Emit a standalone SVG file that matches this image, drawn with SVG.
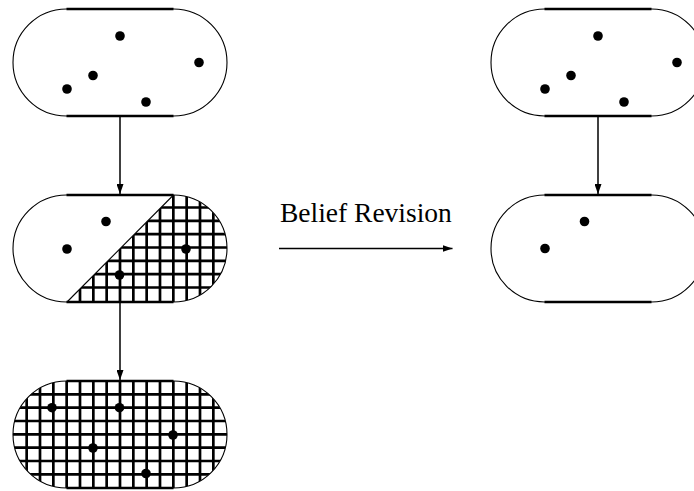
<svg xmlns="http://www.w3.org/2000/svg" width="694" height="491" viewBox="0 0 694 491">
<style>
.arc{fill:none;stroke:#000;stroke-width:1.1}
.edge{fill:none;stroke:#000;stroke-width:2.5}
.grid{fill:none;stroke:#000;stroke-width:2.7}
.dot{fill:#000}
.conn{fill:none;stroke:#000;stroke-width:1.5}
.lbl{font-family:"Liberation Serif","Times New Roman",serif;font-size:27.5px;fill:#000}
</style>
<defs>
<marker id="ah" markerUnits="userSpaceOnUse" markerWidth="10" markerHeight="7" refX="10" refY="3.5" orient="auto">
<path d="M0,0 L10,3.5 L0,7 Z" fill="#000"/>
</marker>
<clipPath id="clip2"><path d="M173.5,195 A53.5,53.5 0 0 1 173.5,302 H67 Z"/></clipPath>
<clipPath id="clip3"><path d="M66.5,381 H173.5 A53.5,53.5 0 0 1 173.5,488 H66.5 A53.5,53.5 0 0 1 66.5,381 Z"/></clipPath>
</defs>

<g id="node1">
<path class="arc" d="M66.5,9 H173.5 A53.5,53.5 0 0 1 173.5,116 H66.5 A53.5,53.5 0 0 1 66.5,9 Z"/>
<path class="edge" d="M66.5,9 H173.5 M66.5,116 H173.5"/>
<circle class="dot" cx="120" cy="36" r="4.8"/>
<circle class="dot" cx="199" cy="62.5" r="4.8"/>
<circle class="dot" cx="93" cy="75.5" r="4.8"/>
<circle class="dot" cx="67" cy="89" r="4.8"/>
<circle class="dot" cx="146" cy="102" r="4.8"/>
</g>

<g id="node2">
<g clip-path="url(#clip2)">
<path class="grid" d="M80,195V302M93.33,195V302M106.67,195V302M120,195V302M133.33,195V302M146.67,195V302M160,195V302M173.33,195V302M186.67,195V302M200,195V302M213.33,195V302M60,207.5H228M60,220.8H228M60,234.2H228M60,247.5H228M60,260.8H228M60,274.2H228M60,287.5H228"/>
</g>
<path class="arc" d="M66.5,195 H173.5 A53.5,53.5 0 0 1 173.5,302 H66.5 A53.5,53.5 0 0 1 66.5,195 Z"/>
<path class="arc" d="M173.5,195 L67,302"/>
<path class="edge" d="M66.5,195 H173.5 M66.5,302 H173.5"/>
<circle class="dot" cx="106" cy="221.5" r="4.8"/>
<circle class="dot" cx="67" cy="249" r="4.8"/>
<circle class="dot" cx="186" cy="249" r="4.8"/>
<circle class="dot" cx="119.5" cy="275" r="4.8"/>
</g>

<g id="node3">
<g clip-path="url(#clip3)">
<path class="grid" d="M26.67,381V488M40,381V488M53.33,381V488M66.67,381V488M80,381V488M93.33,381V488M106.67,381V488M120,381V488M133.33,381V488M146.67,381V488M160,381V488M173.33,381V488M186.67,381V488M200,381V488M213.33,381V488M10,394.3H230M10,407.7H230M10,421H230M10,434.3H230M10,447.7H230M10,461H230M10,474.3H230"/>
</g>
<path class="arc" d="M66.5,381 H173.5 A53.5,53.5 0 0 1 173.5,488 H66.5 A53.5,53.5 0 0 1 66.5,381 Z"/>
<path class="edge" d="M66.5,381 H173.5 M66.5,488 H173.5"/>
<circle class="dot" cx="52" cy="407.7" r="4.8"/>
<circle class="dot" cx="119.5" cy="407.7" r="4.8"/>
<circle class="dot" cx="173" cy="435" r="4.8"/>
<circle class="dot" cx="93" cy="448" r="4.8"/>
<circle class="dot" cx="146" cy="473.5" r="4.8"/>
</g>

<g id="node4">
<path class="arc" d="M544.5,9 H651.5 A53.5,53.5 0 0 1 651.5,116 H544.5 A53.5,53.5 0 0 1 544.5,9 Z"/>
<path class="edge" d="M544.5,9 H651.5 M544.5,116 H651.5"/>
<circle class="dot" cx="598" cy="36" r="4.8"/>
<circle class="dot" cx="677" cy="62.5" r="4.8"/>
<circle class="dot" cx="571" cy="75.5" r="4.8"/>
<circle class="dot" cx="545" cy="89" r="4.8"/>
<circle class="dot" cx="624" cy="102" r="4.8"/>
</g>

<g id="node5">
<path class="arc" d="M544.5,195 H651.5 A53.5,53.5 0 0 1 651.5,302 H544.5 A53.5,53.5 0 0 1 544.5,195 Z"/>
<path class="edge" d="M544.5,195 H651.5 M544.5,302 H651.5"/>
<circle class="dot" cx="584.5" cy="221.5" r="4.8"/>
<circle class="dot" cx="545" cy="248.5" r="4.8"/>
</g>

<g id="connectors">
<line class="conn" x1="120" y1="116" x2="120" y2="194" marker-end="url(#ah)"/>
<line class="conn" x1="120" y1="302" x2="120" y2="380" marker-end="url(#ah)"/>
<line class="conn" x1="598" y1="116" x2="598" y2="194" marker-end="url(#ah)"/>
<line class="conn" x1="279" y1="248.5" x2="452.5" y2="248.5" marker-end="url(#ah)"/>
<text class="lbl" x="280" y="222.3">Belief Revision</text>
</g>
</svg>
